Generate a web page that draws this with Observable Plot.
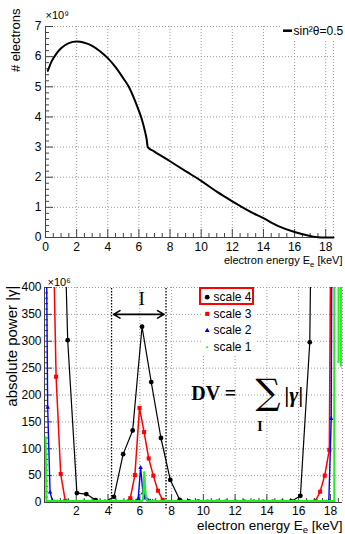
<!DOCTYPE html>
<html>
<head>
<meta charset="utf-8">
<script src="https://cdn.jsdelivr.net/npm/d3@7"></script>
<script src="https://cdn.jsdelivr.net/npm/@observablehq/plot@0.6"></script>
<style>
  body { margin: 0; background: #fff; }
  #chart { position: relative; width: 345px; height: 534px; overflow: hidden; background: #fff; }
  #chart svg { position: absolute; left: 0; }
</style>
</head>
<body>
<div id="chart"></div>
<script>
// ---------- Upper panel: electron spectrum (counts in units of 1e9) ----------
const spectrumEnergy = [0.15, 0.4, 0.7, 1.0, 1.5, 2.0, 2.5, 3.0, 3.5, 4.0, 4.5, 5.0, 5.35, 5.7, 6.0, 6.2, 6.4, 6.5, 6.57,
  7.0, 8.0, 9.0, 10.0, 11.0, 12.0, 13.0, 14.0, 15.0, 16.0, 17.0, 17.5, 18.0, 18.5];
const spectrumCounts = [5.53, 5.85, 6.1, 6.28, 6.45, 6.5, 6.46, 6.36, 6.18, 5.95, 5.65, 5.28, 5.0, 4.6, 4.2, 3.9, 3.5, 3.25, 3.0,
  2.85, 2.53, 2.2, 1.88, 1.52, 1.2, 0.9, 0.64, 0.37, 0.18, 0.05, 0.01, 0.0, 0.0];
const spectrumLegend = "sin²θ=0.5";
const xTicksTop = [0, 2, 4, 6, 8, 10, 12, 14, 16, 18];
const yTicksTop = [0, 1, 2, 3, 4, 5, 6, 7];

// ---------- Lower panel: absolute wavelet power per scale (units of 1e6) ----------
const scale4Energy = [0.88, 1.46, 2.04, 2.63, 3.22, 3.80, 4.37, 4.95, 5.55, 6.14, 6.72, 7.33, 7.92, 8.51, 9.09, 9.68,
  10.26, 10.85, 11.43, 12.02, 12.60, 13.19, 13.77, 14.36, 14.94, 15.53, 16.11, 16.70, 17.29];
const scale4Power = [934, 302, 17.5, 15.7, 4.5, 1, 10.6, 90, 134, 327, 224, 120, 42, 5, 2, 1.5,
  1, 1, 1, 1, 1, 1, 1, 1, 1, 2, 12.5, 298, 1800];

const scale3Energy = [0.44, 0.73, 1.02, 1.31, 1.61, 1.90, 2.19, 2.48, 2.77, 3.06, 3.36, 3.65, 3.94, 4.23, 4.52, 4.81,
  5.10, 5.40, 5.69, 5.98, 6.27, 6.56, 6.85, 7.14, 7.44, 7.73, 8.02, 8.31, 8.60, 8.89, 9.19, 9.48, 9.77, 10.06,
  10.35, 10.64, 10.93, 11.23, 11.52, 11.81, 12.10, 12.39, 12.68, 12.98, 13.27, 13.56, 13.85, 14.14, 14.43, 14.72,
  15.02, 15.31, 15.60, 15.89, 16.18, 16.47, 16.77, 17.06, 17.35, 17.64, 17.93, 18.22];
const scale3Power = [670, 234, 53, 3, 1, 1, 1, 1, 1, 1, 1, 1, 1, 1, 1, 1,
  1, 8, 51, 176, 131, 82, 50, 22, 5, 1, 1, 1, 1, 1, 1, 1, 1, 1,
  1, 1, 1, 1, 1, 1, 1, 1, 1, 1, 1, 1, 1, 1, 1, 1,
  1, 1, 1, 1, 1, 1, 1, 3, 20, 50, 98, 1400];

const scale2Energy = [0.05, 0.20, 0.35, 0.50, 0.65, 0.80, 1.5, 2.5, 3.5, 4.5, 5.45, 5.60, 5.75, 5.90, 6.05, 6.20, 6.35,
  6.50, 6.65, 6.80, 6.95, 8.0, 9.5, 11.0, 12.5, 14.0, 15.5, 17.0, 17.60, 17.75, 17.90, 18.05, 18.20];
const scale2Power = [735, 177, 19, 3, 1, 1, 1, 1, 1, 1, 1, 1, 2, 7, 65, 18, 8,
  5, 3, 2, 1, 1, 1, 1, 1, 1, 1, 1, 1, 1, 3, 156, 1376];

const scale1Energy = [0.07, 0.12, 0.5, 1.5, 2.5, 3.5, 4.5, 5.5, 6.05, 6.13, 6.20, 6.28, 6.35, 6.43, 6.50, 6.58,
  7.5, 9.0, 10.5, 12.0, 13.5, 15.0, 16.5, 17.5, 18.20, 18.24, 18.26, 18.50, 18.51, 18.52, 18.65, 18.66, 18.67];
const scale1Power = [121, 3, 3, 3, 3, 3, 3, 3, 3, 3, 6, 56, 20, 6, 3, 3,
  3, 3, 3, 3, 3, 3, 3, 3, 3, 3, 3000, 3000, 262, 3000, 3000, 255, 3000];

const seriesNames = ["scale 4", "scale 3", "scale 2", "scale 1"];
const intervalI = [4.22, 7.65];
const xTicksBottom = [2, 4, 6, 8, 10, 12, 14, 16, 18];
const yTicksBottom = [0, 50, 100, 150, 200, 250, 300, 350, 400];

// ---------- styling ----------
const SANS = "'Liberation Sans', Arial, Helvetica, sans-serif";
const SERIF = "'Liberation Serif', 'Times New Roman', serif";
const GRID = {stroke: "#9a9a9a", strokeDasharray: "1,2", strokeWidth: 1};
const AXIS = "#444";
const SVGNS = "http://www.w3.org/2000/svg";

const series = [
  {name: seriesNames[0], x: scale4Energy, y: scale4Power, color: "#000000", width: 1.2, symbol: "circle", r: 2.4},
  {name: seriesNames[1], x: scale3Energy, y: scale3Power, color: "#ff0000", width: 1.5, symbol: "square", r: 2.3},
  {name: seriesNames[2], x: scale2Energy, y: scale2Power, color: "#0000ff", width: 1.4, symbol: "triangle", r: 1.7},
  {name: seriesNames[3], x: scale1Energy, y: scale1Power, color: "#22ee22", width: 2.0, symbol: "square", r: 1.0}
];

const table = (xs, ys) => xs.map((x, i) => ({x, y: ys[i]}));

// short inward tick marks drawn as rules whose length is given in pixels
function xTickRules(values, yDom, innerH, lenPx) {
  const len = lenPx * (yDom[1] - yDom[0]) / innerH;
  return Plot.ruleX(values, {x: d => d, y1: yDom[0], y2: yDom[0] + len, stroke: AXIS, strokeWidth: 1});
}
function yTickRules(values, xDom, innerW, lenPx) {
  const len = lenPx * (xDom[1] - xDom[0]) / innerW;
  return Plot.ruleY(values, {y: d => d, x1: xDom[0], x2: xDom[0] + len, stroke: AXIS, strokeWidth: 1});
}

// a single text placed relative to the frame, vertically centred on its anchor
function label(str, opts) {
  return Plot.text([str], {text: d => d, lineAnchor: "middle", ...opts});
}

// ---------- upper panel ----------
const T = {w: 345, h: 268, l: 45, r: 12, t: 26, b: 31};
const topX = [0, 18.5], topY = [0, 7];
const topInnerW = T.w - T.l - T.r, topInnerH = T.h - T.t - T.b;

const topPlot = Plot.plot({
  width: T.w, height: T.h,
  marginLeft: T.l, marginRight: T.r, marginTop: T.t, marginBottom: T.b,
  style: {fontFamily: SANS, fontSize: "12px", color: "#000", background: "transparent", overflow: "visible"},
  x: {domain: topX, ticks: xTicksTop, tickSize: 0, tickPadding: 5, label: null, tickFormat: d => String(d)},
  y: {domain: topY, ticks: yTicksTop, tickSize: 0, tickPadding: 4, label: null, tickFormat: d => String(d)},
  marks: [
    Plot.ruleX(xTicksTop.filter(d => d > 0).concat([topX[1]]), GRID),
    Plot.ruleY(yTicksTop.filter(d => d > 0), GRID),
    Plot.ruleX([topX[0]], {stroke: AXIS}),
    Plot.ruleY([topY[0]], {stroke: AXIS}),
    xTickRules(xTicksTop, topY, topInnerH, 8),
    xTickRules(d3.range(0.5, 18.5, 0.5).filter(d => d % 2 !== 0), topY, topInnerH, 4),
    yTickRules(yTicksTop, topX, topInnerW, 8),
    yTickRules(d3.range(0.2, 7, 0.2).filter(d => Math.abs(d - Math.round(d)) > 0.01), topX, topInnerW, 4),
    Plot.line(table(spectrumEnergy, spectrumCounts), {x: "x", y: "y", stroke: "#000", strokeWidth: 2, curve: "monotone-x"}),
    label("×10⁹", {frameAnchor: "top-left", dx: 0, dy: -11, textAnchor: "start", fontSize: 11}),
    label("# electrons", {frameAnchor: "top-left", dx: -30, dy: -18, rotate: -90, textAnchor: "end", fontSize: 13}),
    label("electron energy E_{e} [keV]", {frameAnchor: "bottom-right", dx: 9, dy: 23, textAnchor: "end", fontSize: 11}),
    label(spectrumLegend, {frameAnchor: "top-right", dx: -40, dy: 4.7, textAnchor: "start", fontSize: 12})
  ]
});

// ---------- lower panel ----------
const B = {w: 345, h: 266, l: 44, r: 3, t: 19, b: 32};
const botX = [0, 18.76], botY = [0, 400];
const botInnerW = B.w - B.l - B.r, botInnerH = B.h - B.t - B.b;
const mid = (intervalI[0] + intervalI[1]) / 2;

const seriesMarks = series.flatMap(s => [
  Plot.line(table(s.x, s.y), {x: "x", y: "y", stroke: s.color, strokeWidth: s.width, clip: true}),
  Plot.dot(table(s.x, s.y), {x: "x", y: "y", fill: s.color, symbol: s.symbol, r: s.r, clip: true})
]);

const legendMarks = series.flatMap((s, i) => [
  Plot.dot([s.name], {frameAnchor: "top-left", dx: 162.7, dy: 9.7 + 16.67 * i, fill: s.color, symbol: s.symbol,
    r: s.symbol === "triangle" ? 1.8 : s.r}),
  label(s.name, {frameAnchor: "top-left", dx: 169, dy: 9.7 + 16.67 * i, textAnchor: "start", fontSize: 12})
]);

const botPlot = Plot.plot({
  width: B.w, height: B.h,
  marginLeft: B.l, marginRight: B.r, marginTop: B.t, marginBottom: B.b,
  style: {fontFamily: SANS, fontSize: "12px", color: "#000", background: "transparent", overflow: "visible"},
  x: {domain: botX, ticks: xTicksBottom, tickSize: 0, tickPadding: 4, label: null, tickFormat: d => String(d)},
  y: {domain: botY, ticks: yTicksBottom, tickSize: 0, tickPadding: 3, label: null, tickFormat: d => String(d)},
  marks: [
    Plot.ruleX(xTicksBottom.concat([botX[1]]), GRID),
    Plot.ruleY(yTicksBottom.filter(d => d > 0), GRID),
    Plot.ruleX([botX[0]], {stroke: AXIS}),
    Plot.ruleY([botY[0]], {stroke: AXIS}),
    xTickRules(xTicksBottom, botY, botInnerH, 8),
    xTickRules(d3.range(0.5, 18.76, 0.5).filter(d => d % 2 !== 0), botY, botInnerH, 4),
    yTickRules(yTicksBottom, botX, botInnerW, 8),
    yTickRules(d3.range(10, 400, 10).filter(d => d % 50 !== 0), botX, botInnerW, 4),
    Plot.ruleX(intervalI, {x: d => d, y1: -12, y2: 400, stroke: "#000", strokeWidth: 1.3, strokeDasharray: "1.5,1.5"}),
    Plot.arrow(intervalI, {x1: mid, y1: 350, x2: d => d, y2: 350, stroke: "#000", strokeWidth: 1.6,
      headLength: 7, insetEnd: 2}),
    Plot.text(["I"], {text: d => d, x: mid, frameAnchor: "top", lineAnchor: "middle", dx: 3, dy: 11,
      fontFamily: SERIF, fontSize: 19}),
    ...seriesMarks,
    label("DV =", {frameAnchor: "top-left", dx: 146.7, dy: 106, textAnchor: "start",
      fontFamily: SERIF, fontWeight: "bold", fontSize: 20}),
    label("∑", {frameAnchor: "top-left", dx: 211, dy: 105, fontFamily: "'DejaVu Serif', serif", fontSize: 35}),
    label("I", {frameAnchor: "top-left", dx: 212.7, dy: 139.5, fontFamily: SERIF, fontWeight: "bold", fontSize: 14}),
    label("|γ|", {frameAnchor: "top-left", dx: 240, dy: 107, fontFamily: SERIF, fontWeight: "bold",
      fontStyle: "italic", fontSize: 22}),
    label("×10⁶", {frameAnchor: "top-left", dx: 3, dy: -5, textAnchor: "start", fontSize: 11}),
    label("absolute power |γ|", {frameAnchor: "top-left", dx: -32, dy: -2, rotate: -90, textAnchor: "end", fontSize: 15}),
    label("electron energy E_{e} [keV]", {frameAnchor: "bottom-right", dx: 0, dy: 23, textAnchor: "end", fontSize: 13.5}),
    ...legendMarks
  ]
});

// subscripts written as _{…} become tspans
function richify(svg) {
  svg.querySelectorAll("text").forEach(t => {
    const s = t.textContent;
    if (!s.includes("_{")) return;
    const parts = s.split(/(_\{[^}]*\})/);
    t.textContent = "";
    for (const p of parts) {
      if (!p) continue;
      const ts = document.createElementNS(SVGNS, "tspan");
      if (p.startsWith("_{")) {
        ts.textContent = p.slice(2, -1);
        ts.setAttribute("baseline-shift", "-3");
        ts.setAttribute("font-size", "70%");
      } else ts.textContent = p;
      t.appendChild(ts);
    }
  });
}

// the mark group (direct child of the svg) holding a given text
function markGroupOf(svg, str) {
  const t = Array.from(svg.querySelectorAll("text")).find(e => e.textContent === str);
  if (!t) return null;
  let g = t;
  while (g.parentNode && g.parentNode !== svg) g = g.parentNode;
  return g.parentNode === svg ? g : null;
}

function whiteBox(x, y, w, h) {
  const r = document.createElementNS(SVGNS, "rect");
  r.setAttribute("x", x); r.setAttribute("y", y);
  r.setAttribute("width", w); r.setAttribute("height", h);
  r.setAttribute("fill", "#fff");
  return r;
}

const chart = document.getElementById("chart");
topPlot.style.top = "0px";
botPlot.style.top = T.h + "px";
chart.appendChild(topPlot);
chart.appendChild(botPlot);
richify(topPlot);
richify(botPlot);

// legend of the upper panel: white box, line sample
{
  const g = markGroupOf(topPlot, spectrumLegend);
  const box = whiteBox(282, 22, 63, 18);
  if (g) topPlot.insertBefore(box, g); else topPlot.appendChild(box);
  d3.select(topPlot).append("line").attr("x1", 283).attr("x2", 292).attr("y1", 30.7).attr("y2", 30.7)
    .attr("stroke", "#000").attr("stroke-width", 2.5);
}
// legend of the lower panel: white box behind the entries, red frame round the first one
{
  const g = markGroupOf(botPlot, seriesNames[0]);
  const before = g && g.previousElementSibling ? g.previousElementSibling : g;
  const box = whiteBox(201, 20, 55, 66);
  if (before) botPlot.insertBefore(box, before); else botPlot.appendChild(box);
  d3.select(botPlot).append("rect").attr("x", 200).attr("y", 20).attr("width", 53).attr("height", 16)
    .attr("fill", "none").attr("stroke", "#ff0000").attr("stroke-width", 2);
}
</script>
</body>
</html>
